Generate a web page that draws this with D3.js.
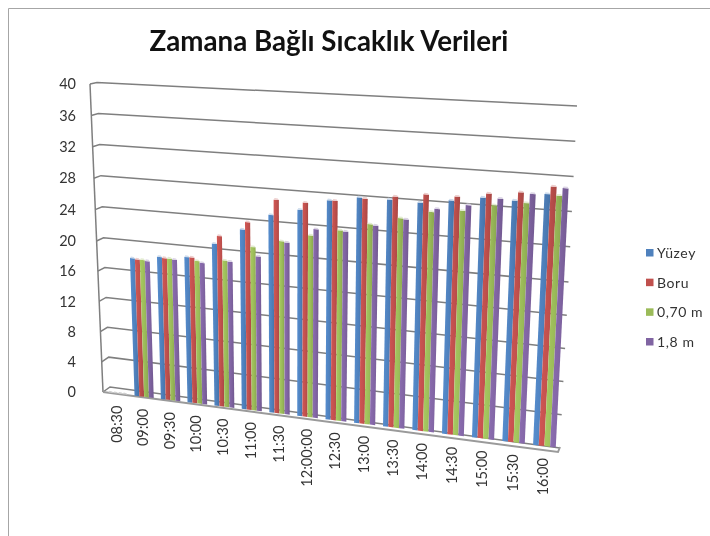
<!DOCTYPE html>
<html>
<head>
<meta charset="utf-8">
<script src="https://cdn.jsdelivr.net/npm/d3@7"></script>
<style>
  body { margin: 0; background: #fff; }
  svg { display: block; font-family: Lato, "Open Sans", sans-serif; filter: blur(0.45px); }
</style>
</head>
<body>
<div id="chart"></div>
<script>
const times = ["08:30","09:00","09:30","10:00","10:30","11:00","11:30","12:00:00","12:30","13:00","13:30","14:00","14:30","15:00","15:30","16:00"];
const yuzey = [0,18.1,18.6,18.9,20.9,22.95,25,25.9,27.3,27.9,27.9,27.8,28.3,28.9,28.8,29.8];
const boru  = [0,18.0,18.5,18.9,21.9,23.9,26.9,26.8,27.3,27.8,28.3,28.8,28.8,29.4,29.8,30.7];
const m070  = [0,18.0,18.5,18.5,18.9,20.9,21.9,22.9,23.8,24.8,25.8,26.8,27.2,28.1,28.6,29.7];
const m18   = [0,17.9,18.4,18.3,18.8,19.8,21.8,23.7,23.7,24.7,25.7,27.2,27.9,28.9,29.7,30.6];
const yTicks = [0,4,8,12,16,20,24,28,32,36,40];
const seriesNames = ["Yüzey","Boru","0,70 m","1,8 m"];
const seriesValues = [yuzey, boru, m070, m18];
const colors = ["#4f81bd","#c0504d","#9bbb59","#8064a2"];

const width = 710, height = 536;
const svg = d3.select("#chart").append("svg").attr("width", width).attr("height", height);

/* chart frame */
svg.append("path").attr("d", "M8.5,536V8.5H710").attr("fill", "none").attr("stroke", "#a6a6a6");

svg.append("text").attr("x", 329).attr("y", 51).attr("text-anchor", "middle")
  .attr("font-size", 27.7).attr("font-weight", 700).attr("fill", "#111")
  .text("Zamana Bağlı Sıcaklık Verileri");

/* wall scales: value -> screen, one for each side of the tilted plot */
const yLeft  = d3.scaleLinear().domain([0,20,40]).range([392,241,84]);
const yRight = d3.scaleLinear().domain([0,20,40]).range([448,282,106]);
const xLeft  = d3.scaleLinear().domain([0,40]).range([105,93]);
const xRight = d3.scaleLinear().domain([0,40]).range([560,577]);
const xAxisLine = d3.scaleLinear().domain([0,40]).range([103,90]);

const persp = u => u / (1 + 0.1 * (1 - u));
const project = (u, v) => {
  const t = persp(u);
  return [d3.interpolateNumber(xLeft(v), xRight(v))(t), d3.interpolateNumber(yLeft(v), yRight(v))(t)];
};

const xBand = d3.scaleBand().domain(times).range([0,1]).paddingInner(0.27).paddingOuter(0.135);
const serBand = d3.scaleBand().domain(seriesNames).range([0, xBand.bandwidth()]).paddingInner(0.01);

/* gradients for the round-ish bar look */
const defs = svg.append("defs");
colors.forEach((c, i) => {
  const g = defs.append("linearGradient").attr("id", "bar" + i);
  g.append("stop").attr("offset", "0%").attr("stop-color", d3.color(c).brighter(0.25));
  g.append("stop").attr("offset", "55%").attr("stop-color", c);
  g.append("stop").attr("offset", "100%").attr("stop-color", d3.color(c).darker(0.35));
});

/* gridlines with the little side-wall kink at left */
const grid = svg.append("g").attr("fill", "none").attr("stroke", "#7f7f7f").attr("stroke-width", 1.5);
yTicks.forEach(v => {
  const ax = xAxisLine(v), ay = yLeft(v);
  const kinkY = d3.scaleLinear().domain([0,40]).range([5,1.5])(v);
  const pts = [[ax, ay], [ax + 7, ay - kinkY], [xRight(v), yRight(v)]];
  grid.append("path").attr("d", d3.line()(pts));
});
grid.append("path").attr("d", d3.line()([[xAxisLine(0), yLeft(0)], [xAxisLine(40), yLeft(40)]]));
/* front floor edge */
svg.append("path").attr("d", d3.line()([[103,392],[558,452],[560,447]]))
  .attr("fill", "none").attr("stroke", "#9a9a9a").attr("stroke-width", 2);

const yAxis = d3.axisLeft(yLeft).tickValues(yTicks).tickSize(0).tickPadding(0);
svg.append("g").attr("transform", "translate(76,0)").call(yAxis)
  .call(g => g.select(".domain").remove())
  .selectAll("text").attr("font-size", 14.5).attr("font-family", "Lato").attr("fill", "#333");

/* bars */
const barsG = svg.append("g");
times.forEach((time, i) => {
  seriesValues.forEach((vals, s) => {
    const v = vals[i];
    const u0 = xBand(time) + serBand(seriesNames[s]);
    const u1 = u0 + serBand.bandwidth();
    const a = project(u0, 0), b = project(u1, 0), c = project(u1, v), d = project(u0, v);
    if (v > 0) {
      barsG.append("path").attr("d", d3.line()([a, b, c, d]) + "Z").attr("fill", `url(#bar${s})`);
    }
    const capTop = [[d[0] + 1, d[1] - 1.6], [c[0] - 1, c[1] - 1.6]];
    const capColor = v > 0 ? d3.interpolateRgb(colors[s], "#fff")(0.72) : "#cfcfcf";
    barsG.append("path").attr("d", d3.line()([d, capTop[0], capTop[1], c]) + "Z").attr("fill", capColor);
  });
});

/* category labels, their ends following the floor */
times.forEach(time => {
  const p = project(xBand(time) + xBand.bandwidth() / 2, 0);
  svg.append("text")
    .attr("transform", `translate(${p[0] - 1},${p[1] + 12}) rotate(-90)`)
    .attr("text-anchor", "end").attr("dy", "0.35em")
    .attr("font-size", 14.5).attr("fill", "#333")
    .text(time);
});

/* legend */
const legendY = d3.scalePoint().domain(seriesNames).range([253,342]);
const legend = svg.append("g").selectAll("g").data(seriesNames).join("g")
  .attr("transform", d => `translate(646,${legendY(d)})`);
legend.append("rect").attr("x", 0).attr("y", -4).attr("width", 7.5).attr("height", 7.5)
  .attr("fill", (d, i) => colors[i]);
legend.append("text").attr("x", 11).attr("dy", "0.35em").attr("font-size", 14)
  .attr("letter-spacing", 0.6).attr("fill", "#333").text(d => d);
</script>
</body>
</html>
